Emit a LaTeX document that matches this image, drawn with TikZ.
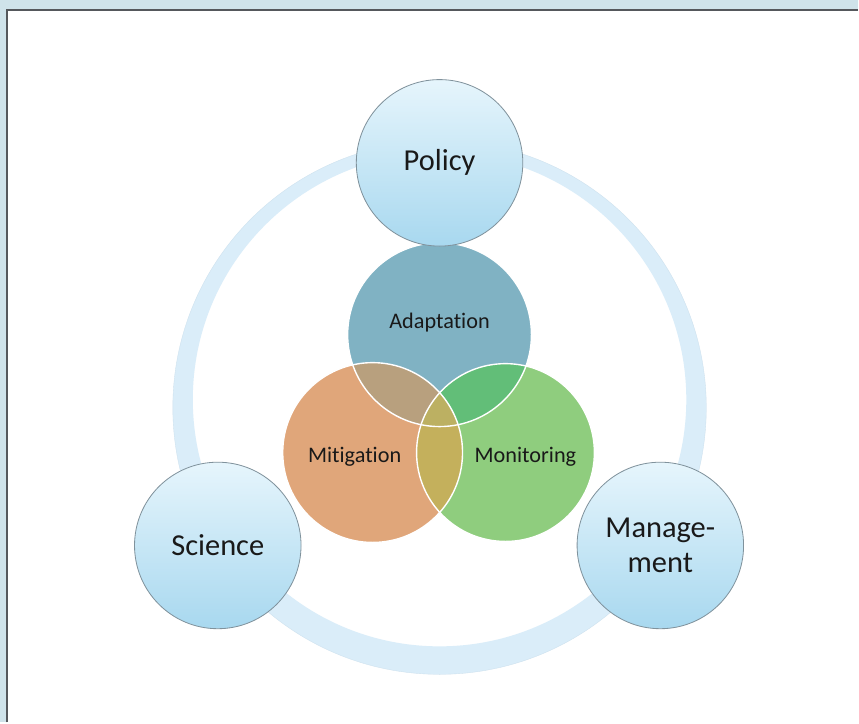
\documentclass[tikz,border=0pt]{standalone}
\usepackage{fontspec}
\setmainfont{Carlito}[Ligatures=NoCommon]

\definecolor{frameblue}{RGB}{207,227,234}
\definecolor{framegrey}{RGB}{85,88,92}
\definecolor{ringblue}{RGB}{218,237,249}
\definecolor{ringedge}{RGB}{205,225,238}
\definecolor{bubtop}{RGB}{230,245,252}
\definecolor{bubbot}{RGB}{168,216,239}
\definecolor{bubline}{RGB}{128,146,156}
\definecolor{adaptfill}{RGB}{128,178,195}
\definecolor{mitifill}{RGB}{224,166,122}
\definecolor{monifill}{RGB}{143,205,126}
\definecolor{amfill}{RGB}{184,160,126}
\definecolor{agfill}{RGB}{98,190,120}
\definecolor{mgfill}{RGB}{196,176,92}
\definecolor{amgfill}{RGB}{188,176,98}

\tikzset{
    bubble/.style={circle, draw=bubline, line width=0.7pt, top color=bubtop, bottom color=bubbot,
        minimum size=5cm, inner sep=0pt, align=center, font=\fontsize{26}{30}\selectfont, text=black!90},
    venntext/.style={font=\fontsize{19}{22}\selectfont, text=black!90},
    vennline/.style={draw=white, line width=1.2pt}
}

\begin{document}
\begin{tikzpicture}[x=0.03cm, y=-0.03cm]
    % frame
    \fill[frameblue] (0,0) rectangle (859,723);
    \fill[white] (7,10) rectangle (859,723);
    \draw[framegrey, line width=1.5pt] (7,723) -- (7,10) -- (859,10);
    \useasboundingbox (0,0) rectangle (859,723);

    % ring
    \fill[ringblue, even odd rule] (440,408) circle[radius=267] (440,400) circle[radius=247];
    \draw[ringedge, line width=0.3pt] (440,408) circle[radius=267];

    % venn circles
    \fill[adaptfill] (440,335) circle[radius=92];
    \fill[mitifill] (373,453) circle[radius=90];
    \fill[monifill] (506,453) circle[radius=89];
    \begin{scope}
        \clip (440,335) circle[radius=92];
        \fill[amfill] (373,453) circle[radius=90];
        \fill[agfill] (506,453) circle[radius=89];
    \end{scope}
    \begin{scope}
        \clip (373,453) circle[radius=90];
        \fill[mgfill] (506,453) circle[radius=89];
        \clip (506,453) circle[radius=89];
        \fill[amgfill] (440,335) circle[radius=92];
    \end{scope}
    \draw[vennline] (440,335) circle[radius=92];
    \draw[vennline] (373,453) circle[radius=90];
    \draw[vennline] (506,453) circle[radius=89];

    \node[venntext] (adapt) at (440,323) {Adaptation};
    \node[venntext] (miti) at (355,457) {Mitigation};
    \node[venntext] (moni) at (526,457) {Monitoring};

    % outer bubbles
    \node[bubble] (policy) at (440,163) {Policy};
    \node[bubble] (science) at (218,546) {Science};
    \node[bubble] (manage) at (661,546) {Manage-\\ment};
\end{tikzpicture}
\end{document}
